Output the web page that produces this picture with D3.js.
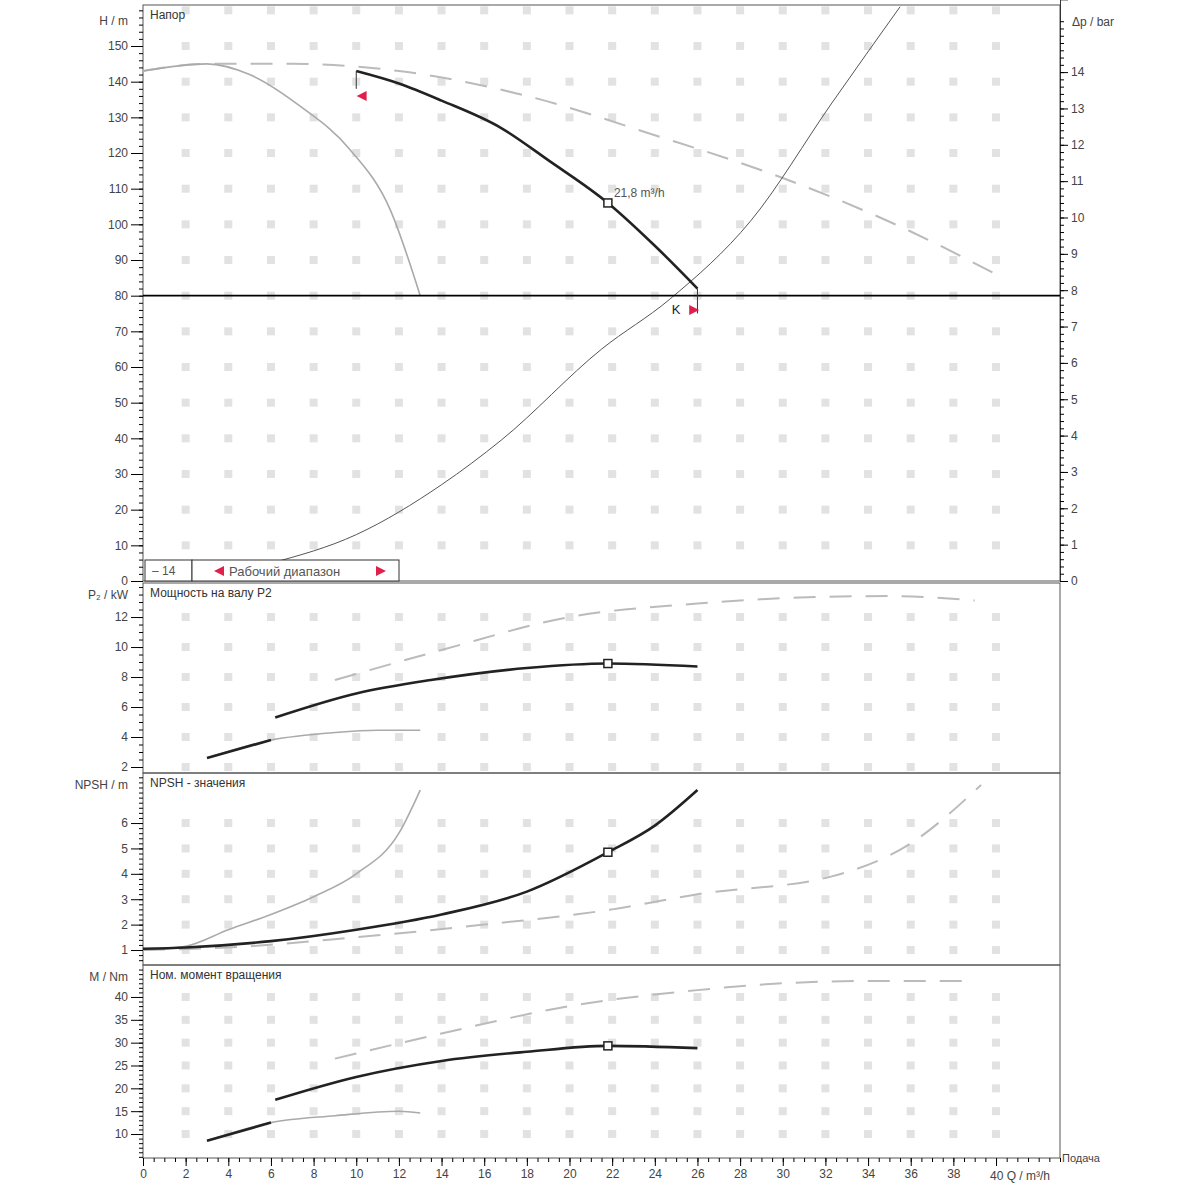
<!DOCTYPE html>
<html><head><meta charset="utf-8">
<script src="https://cdn.jsdelivr.net/npm/d3@7"></script>
<style>body{margin:0;background:#fff}text{font-family:"Liberation Sans",Arial,sans-serif}</style>
</head><body>
<svg id="c" width="1200" height="1200"></svg>
<script>
// данные (Q в m³/h)
const qTicks = d3.range(0, 42, 2);
const headMain = [[10,143],[12,139.5],[14,134.7],[16.8,127],[19,118],[21.8,106],[24,94],[26,82]];
const headMax = [[0,143],[3,145],[7,145],[12,143],[18,136],[24,125],[30,113],[36,98],[40,86]];
const headMin = [[0,143],[3,145],[5,142],[7.4,133],[9.7,121],[11.6,104],[13,80]];
const systemCurve = [[6,5],[10,13],[14,27],[16.8,39.5],[21.5,65],[24.7,79],[28.5,101],[32.3,134],[35.5,161]];
const p2Main = [[6.2,5.3],[10,6.9],[13.5,7.8],[18,8.6],[21.8,8.9],[26,8.7]];
const p2Max = [[9,7.8],[14,9.8],[20,12],[26,12.9],[30.8,13.3],[35,13.4],[39,13.1]];
const p2Min = [[3,2.6],[6,3.8],[9,4.3],[11,4.45],[13,4.45]];
const npshMain = [[0,1.05],[2,1.1],[6,1.35],[10,1.8],[14,2.4],[18,3.3],[21.8,4.85],[24,5.9],[26,7.3]];
const npshMin = [[0,1],[2,1.15],[4,1.8],[6,2.4],[8,3.1],[10,4],[12,5.6],[13,7.3]];
const npshMax = [[0,1],[4,1.1],[10,1.5],[16,2],[22,2.6],[26,3.2],[32.3,3.9],[36,5.2],[39.3,7.5]];
const mMain = [[6.2,17.5],[10,22.5],[14,26],[18,28],[21.8,29.3],[26,28.8]];
const mMin = [[3,8.5],[6,12.5],[9,14],[12,15],[13,14.6]];
const mMax = [[9,26.5],[14,32],[20,38],[26,41.5],[30,43],[34,43.5],[39,43.5]];
const dutyPoint = {q:21.8, h:106, p:8.9, npsh:4.85, m:29.3};

const svg = d3.select("#c");
const L = 143, R = 1060;
const x = d3.scaleLinear().domain([0,43]).range([L,R]);

const panels = [
  {top:5, bottom:581, dom:[0,161.5], ticks:d3.range(0,151,10), minor:2, title:"Напор", ylab:"H / m"},
  {top:583, bottom:773, dom:[1.6,14.27], ticks:d3.range(2,13,2), minor:0.5, title:"Мощность на валу P2", ylab:"P₂ / kW"},
  {top:773, bottom:965, dom:[0.41,7.97], ticks:d3.range(1,7), minor:0.2, title:"NPSH - значения", ylab:"NPSH / m"},
  {top:965, bottom:1158, dom:[4.75,47], ticks:d3.range(10,41,5), minor:1, title:"Ном. момент вращения", ylab:"M / Nm"}
];
panels.forEach(p => p.y = d3.scaleLinear().domain(p.dom).range([p.bottom,p.top]));

const line = (p) => d3.line().x(d=>x(d[0])).y(d=>p.y(d[1])).curve(d3.curveMonotoneX);

panels.forEach((p,i) => {
  const g = svg.append("g");
  // сетка точками
  const gy = i==0 ? d3.range(10,161,10) : p.ticks;
  qTicks.slice(1).forEach(q => gy.forEach(v => {
    g.append("rect").attr("x",x(q)-4).attr("y",p.y(v)-4).attr("width",8).attr("height",8).attr("fill","#e2e2e2");
  }));
  g.append("rect").attr("x",L).attr("y",p.top).attr("width",R-L).attr("height",p.bottom-p.top)
    .attr("fill","none").attr("stroke","#555");
  const ax = g.append("g").attr("transform",`translate(${L},0)`)
    .call(d3.axisLeft(p.y).tickValues(d3.range(Math.ceil(p.dom[0]/p.minor)*p.minor,p.dom[1],p.minor)).tickSize(4).tickFormat(""));
  ax.select(".domain").remove();
  const ax2 = g.append("g").attr("transform",`translate(${L},0)`)
    .call(d3.axisLeft(p.y).tickValues(p.ticks).tickSize(12).tickFormat(d3.format("d")));
  ax2.select(".domain").remove();
  ax2.selectAll("text").attr("font-size",12).attr("fill","#444");
  g.append("text").attr("x",150).attr("y",p.top+14).attr("font-size",12).attr("fill","#333").text(p.title);
  g.append("text").attr("x",128).attr("y",p.top+(i==0?20:16)).attr("text-anchor","end").attr("font-size",12).attr("fill","#444").text(p.ylab);
});

// правая ось Δp
const yBar = d3.scaleLinear().domain([0,16]).range([581,581-16*36.35]);
const rax = svg.append("g").attr("transform",`translate(${R},0)`)
  .call(d3.axisRight(yBar).tickValues(d3.range(0,14.1,1)).tickSize(8));
rax.select(".domain").attr("stroke","#333");
rax.selectAll("text").attr("font-size",12).attr("fill","#444");
svg.append("g").attr("transform",`translate(${R},0)`)
  .call(d3.axisRight(yBar).tickValues(d3.range(0,15.5,0.2)).tickSize(4).tickFormat("")).select(".domain").remove();
svg.append("text").attr("x",1072).attr("y",26).attr("font-size",12).attr("fill","#444").text("Δp / bar");

// ось Q
const xa = svg.append("g").attr("transform","translate(0,1158)")
  .call(d3.axisBottom(x).tickValues(qTicks).tickSize(8).tickFormat(d=>d==40?"":d));
xa.select(".domain").remove();
xa.selectAll("text").attr("font-size",12).attr("fill","#444");
svg.append("g").attr("transform","translate(0,1158)")
  .call(d3.axisBottom(x).tickValues(d3.range(0,43.1,0.5)).tickSize(4).tickFormat("")).select(".domain").remove();
svg.append("text").attr("x",990).attr("y",1180).attr("font-size",12).attr("fill","#444").text("40 Q / m³/h");
svg.append("text").attr("x",1062).attr("y",1162).attr("font-size",11).attr("fill","#444").text("Подача");

// кривые
function draw(p, data, opt){
  svg.append("path").datum(data).attr("d",line(p)).attr("fill","none")
    .attr("stroke",opt.c).attr("stroke-width",opt.w).attr("stroke-dasharray",opt.d||null);
}
const [pH,pP,pN,pM] = panels;
const dash = {c:"#bbb", w:2, d:"22,14"}, thin = {c:"#aaa", w:1.6}, main = {c:"#222", w:2.6};
draw(pH, headMax, dash); draw(pH, headMin, thin);
draw(pH, systemCurve, {c:"#555", w:1});
draw(pH, headMain, main);
svg.append("line").attr("x1",x(10)).attr("x2",x(10)).attr("y1",pH.y(143)).attr("y2",pH.y(138)).attr("stroke","#333");
svg.append("line").attr("x1",L).attr("x2",R).attr("y1",pH.y(80)).attr("y2",pH.y(80)).attr("stroke","#000").attr("stroke-width",1.8);
svg.append("line").attr("x1",x(26)).attr("x2",x(26)).attr("y1",pH.y(82)).attr("y2",pH.y(75)).attr("stroke","#333");
draw(pP, p2Max, dash); draw(pP, p2Min, thin); draw(pP, p2Main, main);
draw(pP, p2Min.slice(0,2), {c:"#222",w:2.6});
draw(pN, npshMax, dash); draw(pN, npshMin, thin); draw(pN, npshMain, main);
draw(pM, mMax, dash); draw(pM, mMin, thin); draw(pM, mMain, main);
draw(pM, mMin.slice(0,2), {c:"#222",w:2.6});

// рабочая точка
[[pH,dutyPoint.h],[pP,dutyPoint.p],[pN,dutyPoint.npsh],[pM,dutyPoint.m]].forEach(([p,v]) => {
  svg.append("rect").attr("x",x(dutyPoint.q)-4).attr("y",p.y(v)-4).attr("width",8).attr("height",8)
    .attr("fill","#fff").attr("stroke","#222").attr("stroke-width",1.5);
});
svg.append("text").attr("x",x(dutyPoint.q)+6).attr("y",pH.y(dutyPoint.h)-6).attr("font-size",12).attr("fill","#555").text("21,8 m³/h");

// маркеры диапазона
const tri = (q,h,dir) => {
  const cx = x(q), cy = pH.y(h);
  svg.append("path").attr("d", dir<0 ? `M${cx-6},${cy}L${cx+4},${cy-5}L${cx+4},${cy+5}Z` : `M${cx+6},${cy}L${cx-4},${cy-5}L${cx-4},${cy+5}Z`).attr("fill","#e0204a");
};
tri(10.3,136,-1); tri(25.8,76,1);
svg.append("text").attr("x",x(24.8)).attr("y",pH.y(75)).attr("font-size",13).attr("fill","#222").text("K");

// легенда
svg.append("rect").attr("x",145).attr("y",560).attr("width",47).attr("height",21).attr("fill","#fff").attr("stroke","#333");
svg.append("text").attr("x",152).attr("y",575).attr("font-size",12).attr("fill","#555").text("– 14");
svg.append("rect").attr("x",192).attr("y",560).attr("width",207).attr("height",21).attr("fill","#fff").attr("stroke","#333");
svg.append("text").attr("x",229).attr("y",576).attr("font-size",13).attr("fill","#555").text("Рабочий диапазон");
svg.append("path").attr("d","M214,571L224,566L224,576Z").attr("fill","#e0204a");
svg.append("path").attr("d","M386,571L376,566L376,576Z").attr("fill","#e0204a");
</script>
</body></html>
